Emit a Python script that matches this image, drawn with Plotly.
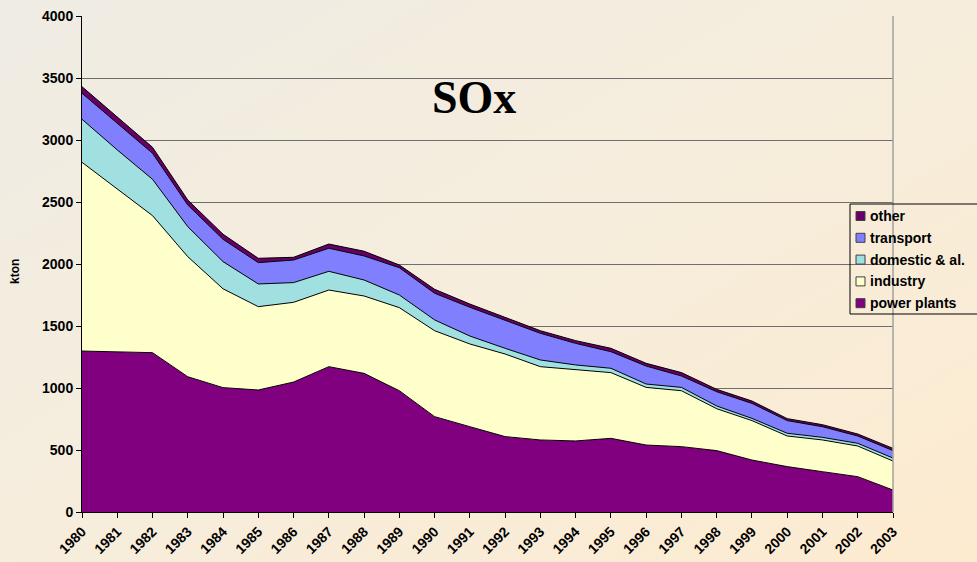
import base64
import plotly.graph_objects as go

# ---------------- data (kton) ----------------
years = list(range(1980, 2004))
power_plants = [1298, 1293, 1285, 1091, 1003, 984, 1048, 1172, 1118, 978, 769, 688,
                608, 581, 573, 594, 540, 527, 495, 419, 366, 325, 285, 177]
industry = [1522, 1310, 1105, 968, 797, 672, 643, 618, 624, 670, 693, 667,
            666, 591, 572, 530, 465, 451, 338, 318, 247, 256, 247, 234]
domestic = [347, 317, 293, 242, 219, 183, 159, 151, 129, 102, 87, 64,
            46, 54, 41, 35, 27, 27, 22, 18, 22, 21, 22, 24]
transport = [210, 215, 210, 175, 180, 172, 182, 186, 194, 220, 215, 232,
             223, 215, 174, 134, 145, 92, 115, 121, 102, 86, 59, 60]
other = [53, 48, 48, 40, 41, 35, 22, 34, 38, 22, 32, 26,
         27, 21, 22, 27, 22, 27, 19, 19, 16, 16, 16, 18]

series_names = ["power plants", "industry", "domestic & al.", "transport", "other"]
series_values = [power_plants, industry, domestic, transport, other]
series_colors = ["#800080", "#FFFFCC", "#A0E0E0", "#8080FF", "#660066"]

y_ticks = list(range(0, 4001, 500))

# ---------------- geometry ----------------
W, H = 977, 562
L, R, T, B = 82, 84, 16, 50
PW, PH = W - L - R, H - T - B


def px(x):
    return (x - L) / PW


def py(y):
    return (H - B - y) / PH


FONT = "Liberation Sans, Arial, sans-serif"

fig = go.Figure()
for name, vals, col in zip(series_names, series_values, series_colors):
    fig.add_trace(go.Scatter(
        x=years, y=vals, name=name, mode="lines", stackgroup="one",
        line=dict(color="black", width=1), fillcolor=col, showlegend=False,
    ))

# background gradient
svg = ('<svg xmlns="http://www.w3.org/2000/svg" width="977" height="562" '
       'preserveAspectRatio="none" viewBox="0 0 977 562">'
       '<defs><linearGradient id="g" x1="0" y1="0" x2="1" y2="1">'
       '<stop offset="0" stop-color="#EFECE4"/>'
       '<stop offset="0.5" stop-color="#F6EDDC"/>'
       '<stop offset="1" stop-color="#FDEBD0"/></linearGradient></defs>'
       '<rect width="977" height="562" fill="url(#g)"/></svg>')
uri = "data:image/svg+xml;base64," + base64.b64encode(svg.encode()).decode()

shapes = [
    dict(type="line", xref="paper", yref="paper", x0=1, x1=1, y0=0, y1=1,
         line=dict(color="#A0A0A0", width=1.5), layer="above"),
]
annotations = [
    dict(text="<b>SOx</b>", x=px(474), y=py(98), xref="paper", yref="paper",
         xanchor="center", yanchor="middle",
         showarrow=False, font=dict(family="Liberation Serif, Times New Roman, serif",
                                    size=46, color="black")),
    dict(text="<b>kton</b>", x=px(15), y=py(272), xref="paper", yref="paper",
         xanchor="center", yanchor="middle",
         showarrow=False, textangle=-90, font=dict(family=FONT, size=12, color="black")),
]

# custom legend
lx0, lx1, ly0, ly1 = 850, 977, 204, 314
shapes.append(dict(type="rect", xref="paper", yref="paper", x0=px(lx0), x1=px(lx1 + 2),
                   y0=py(ly1), y1=py(ly0), line=dict(color="black", width=1),
                   fillcolor="rgba(0,0,0,0)", layer="above"))
leg_order = list(range(len(series_names)))[::-1]
for i, k in enumerate(leg_order):
    cy = 216 + i * 21.8
    shapes.append(dict(type="rect", xref="paper", yref="paper",
                       x0=px(856), x1=px(865), y0=py(cy + 4.5), y1=py(cy - 4.5),
                       fillcolor=series_colors[k], line=dict(color="#404040", width=1),
                       layer="above"))
    annotations.append(dict(text="<b>%s</b>" % series_names[k], x=px(868), y=py(cy),
                            xref="paper", yref="paper", xanchor="left", yanchor="middle",
                            showarrow=False, font=dict(family=FONT, size=14, color="black")))

fig.update_layout(
    width=W, height=H,
    margin=dict(l=L, r=R, t=T, b=B, pad=0, autoexpand=False),
    paper_bgcolor="#F5EDDD", plot_bgcolor="rgba(0,0,0,0)",
    images=[dict(source=uri, xref="paper", yref="paper", x=-L / PW, y=1 + T / PH,
                 sizex=W / PW, sizey=H / PH, sizing="stretch", layer="below",
                 xanchor="left", yanchor="top")],
    shapes=shapes, annotations=annotations,
    showlegend=False,
    xaxis=dict(range=[1980, 2003], tickvals=years, ticktext=[str(y) for y in years],
               tickangle=-45, showgrid=False, zeroline=False, showline=True,
               linecolor="black", linewidth=1, ticks="outside", ticklen=5,
               tickcolor="black", automargin=False,
               tickfont=dict(family=FONT, size=14, color="black", weight="bold")),
    yaxis=dict(range=[0, 4000], tickvals=y_ticks, showgrid=True, gridcolor="#6E6E6E",
               gridwidth=1, zeroline=False, showline=True, linecolor="black",
               linewidth=1, ticks="outside", ticklen=5, tickcolor="black",
               automargin=False,
               tickfont=dict(family=FONT, size=14, color="black", weight="bold")),
)

fig.write_html("out.html", config={"displayModeBar": False},
               post_script="document.body.style.margin='0';document.body.style.padding='0';")
